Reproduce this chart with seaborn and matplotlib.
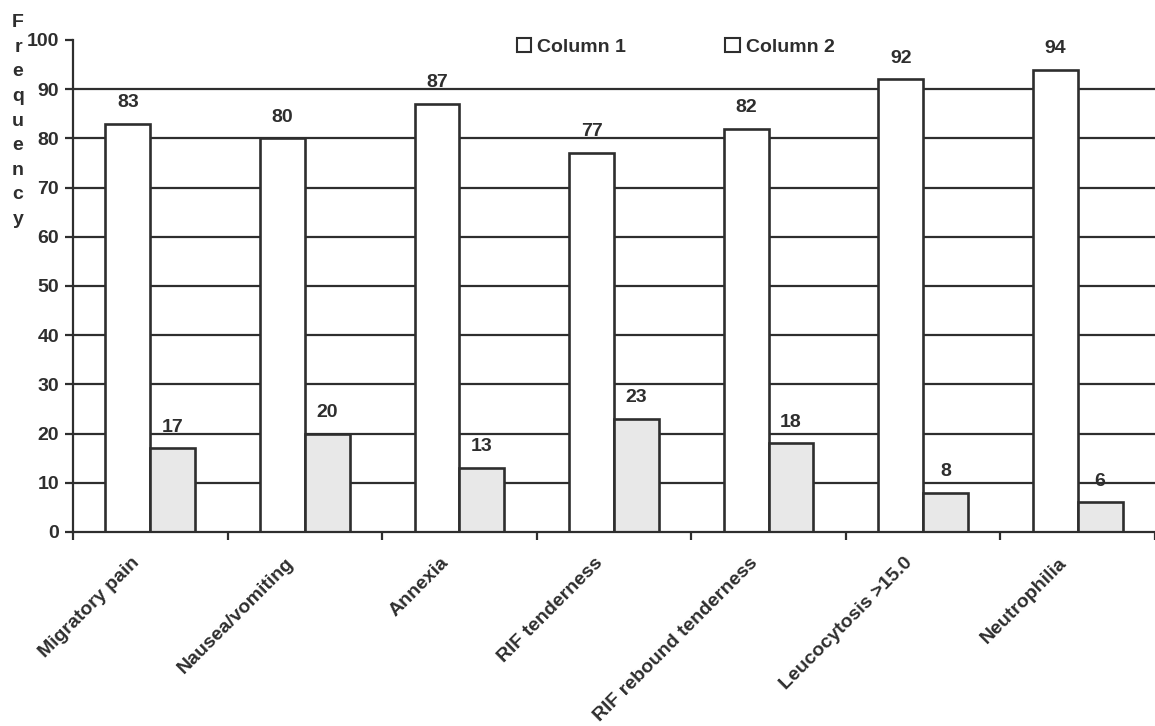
import matplotlib
matplotlib.use("Agg")
import matplotlib.pyplot as plt
from matplotlib.patches import Patch
from matplotlib.transforms import ScaledTranslation
import seaborn as sns
import pandas as pd

# Symptom frequencies for the two groups
categories = ["Migratory pain", "Nausea/vomiting", "Annexia", "RIF tenderness",
              "RIF rebound tenderness", "Leucocytosis >15.0", "Neutrophilia"]
column1 = [83, 80, 87, 77, 82, 92, 94]
column2 = [17, 20, 13, 23, 18, 8, 6]
series_names = ["Column 1", "Column 2"]
y_ticks = list(range(0, 101, 10))
y_label = "Frequency"

df = pd.DataFrame({
    "Symptom": categories * 2,
    "Frequency": column1 + column2,
    "Series": [series_names[0]] * len(categories) + [series_names[1]] * len(categories),
})

sns.set_theme(style="white")
plt.rcParams["font.family"] = ["Liberation Sans", "DejaVu Sans"]
plt.rcParams["font.weight"] = "bold"

ink = "#2e2e2e"
fs = 14

fig = plt.figure(figsize=(11.55, 7.26), dpi=100)
ax = fig.add_axes([73 / 1155, 1 - 532 / 726, (1155 - 73) / 1155, (532 - 40) / 726])

# horizontal rules behind the bars
for v in y_ticks[1:-1]:
    ax.axhline(v, color=ink, lw=1.6, zorder=0)

sns.barplot(data=df, x="Symptom", y="Frequency", hue="Series",
            order=categories, hue_order=series_names,
            palette=["white", "#e8e8e8"], saturation=1,
            width=0.58, gap=0, edgecolor=ink, linewidth=1.9,
            legend=False, ax=ax, zorder=2)

# value labels above each bar
for container, values in zip(ax.containers, [column1, column2]):
    for bar, v in zip(container, values):
        ax.annotate(f"{v}", (bar.get_x() + bar.get_width() / 2, v),
                    xytext=(0, 12), textcoords="offset points",
                    ha="center", va="baseline", fontsize=fs,
                    fontweight="bold", color=ink)

ax.set_xlim(-0.5, len(categories) - 0.5)
ax.set_ylim(0, 100)
ax.set_yticks(y_ticks)
ax.set_yticklabels([str(t) for t in y_ticks])
ax.set_xticks(range(len(categories)))
ax.set_xticklabels(categories, rotation=45, ha="right", rotation_mode="anchor")
ax.set_xticks([i + 0.5 for i in range(-1, len(categories))], minor=True)
ax.set_xlabel("")
ax.set_ylabel("")

ax.tick_params(axis="x", which="major", length=0, pad=16, labelsize=14,
               labelcolor=ink)
ax.tick_params(axis="x", which="minor", length=6, width=1.6, color=ink,
               direction="out", bottom=True)
ax.tick_params(axis="y", length=6, width=1.6, color=ink, direction="out",
               pad=4, labelsize=fs, labelcolor=ink, left=True)
for lab in ax.get_xticklabels():
    lab.set_fontweight("bold")
    lab.set_transform(lab.get_transform() + ScaledTranslation(-14 / 72, 0, fig.dpi_scale_trans))
for lab in ax.get_yticklabels():
    lab.set_fontweight("bold")

for side in ["top", "right"]:
    ax.spines[side].set_visible(False)
for side in ["left", "bottom"]:
    ax.spines[side].set_color(ink)
    ax.spines[side].set_linewidth(1.6)

handles = [Patch(facecolor="white", edgecolor=ink, linewidth=1.5) for _ in series_names]
ax.legend(handles, series_names, ncol=2, loc="center",
          bbox_to_anchor=(0.557, 0.986), frameon=False,
          handlelength=0.75, handleheight=0.75, handletextpad=0.3,
          columnspacing=5.1, prop={"size": fs, "weight": "bold"},
          labelcolor=ink)

# stacked vertical axis title
fig.text(18 / 1155, 1 - 121 / 726, "\n".join(y_label), ha="center", va="center",
         fontsize=fs, fontweight="bold", color=ink, linespacing=1.58)

fig.savefig("out.png", dpi=100, facecolor="white")
